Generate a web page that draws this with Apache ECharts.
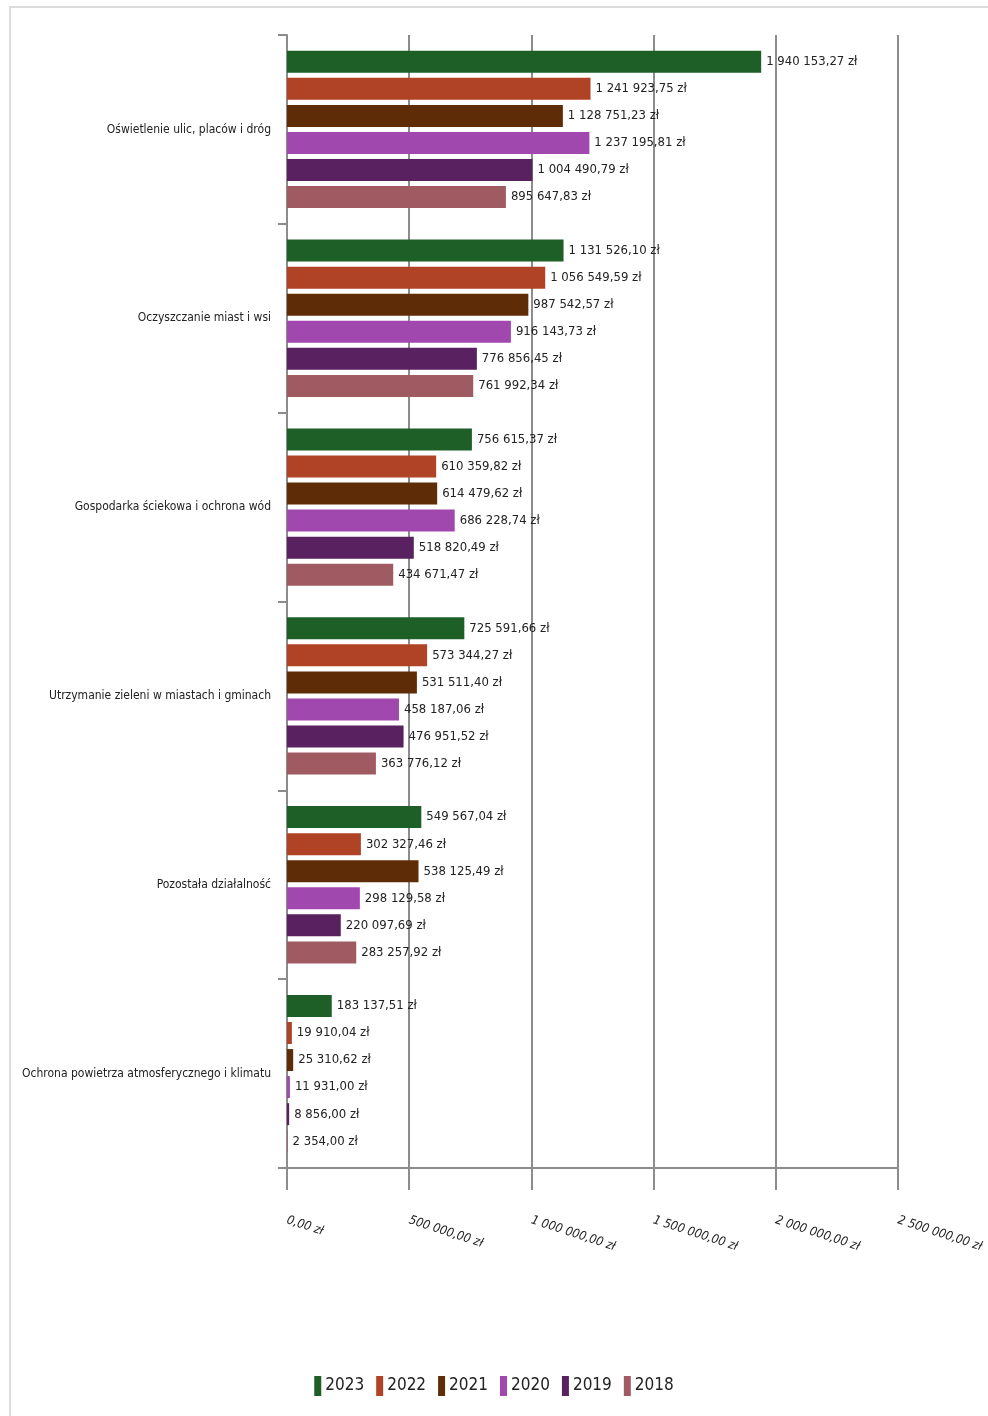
<!DOCTYPE html>
<html><head><meta charset="utf-8">
<script src="https://cdn.jsdelivr.net/npm/echarts@6/dist/echarts.min.js"></script>
<style>html,body{margin:0;padding:0;background:#fff}#c{width:988px;height:1416px}</style>
</head><body><div id="c"></div>
<script>
const categories = [
  'Oświetlenie ulic, placów i dróg',
  'Oczyszczanie miast i wsi',
  'Gospodarka ściekowa i ochrona wód',
  'Utrzymanie zieleni w miastach i gminach',
  'Pozostała działalność',
  'Ochrona powietrza atmosferycznego i klimatu'
];
const years = ['2023','2022','2021','2020','2019','2018'];
const v2023 = [1940153.27, 1131526.10, 756615.37, 725591.66, 549567.04, 183137.51];
const v2022 = [1241923.75, 1056549.59, 610359.82, 573344.27, 302327.46, 19910.04];
const v2021 = [1128751.23, 987542.57, 614479.62, 531511.40, 538125.49, 25310.62];
const v2020 = [1237195.81, 916143.73, 686228.74, 458187.06, 298129.58, 11931.00];
const v2019 = [1004490.79, 776856.45, 518820.49, 476951.52, 220097.69, 8856.00];
const v2018 = [895647.83, 761992.34, 434671.47, 363776.12, 283257.92, 2354.00];
const axisTicks = [0, 500000, 1000000, 1500000, 2000000, 2500000];

const seriesData = [v2023, v2022, v2021, v2020, v2019, v2018];
const colors = ['#1e5f28', '#b04326', '#5e2d08', '#a048ae', '#5a2160', '#a05a62'];

function fmt(v) {
  const s = v.toFixed(2).split('.');
  const int = s[0].replace(/\B(?=(\d{3})+(?!\d))/g, ' ');
  return int + ',' + s[1] + ' zł';
}

const FONT = '"Liberation Sans Narrow", "DejaVu Sans Condensed", "Liberation Sans", Arial, sans-serif';
const chart = echarts.init(document.getElementById('c'), null, {renderer: 'canvas'});
chart.setOption({
  animation: false,
  backgroundColor: '#fff',
  color: colors,
  graphic: [{
    type: 'rect', shape: {x: 10, y: 7, width: 1100, height: 1500},
    style: {fill: 'none', stroke: '#dcdcdc', lineWidth: 2}, silent: true
  }],
  grid: {left: 287, right: 90, top: 35, bottom: 248, containLabel: false, outerBoundsMode: 'none'},
  legend: {
    data: years, bottom: 15, left: 'center',
    itemWidth: 7, itemHeight: 20, itemGap: 12,
    icon: 'rect',
    textStyle: {fontFamily: FONT, fontSize: 17, color: '#222', padding: [0, 0, 0, -1]}
  },
  xAxis: {
    type: 'value', min: 0, max: 2500000, interval: 500000,
    axisLine: {show: true, lineStyle: {color: '#8c8c8c', width: 2}},
    axisTick: {show: true, length: 22, lineStyle: {color: '#8c8c8c', width: 2}},
    splitLine: {show: true, lineStyle: {color: '#8c8c8c', width: 2}},
    axisLabel: {
      rotate: -18, margin: 52, fontFamily: FONT, fontSize: 12.5, color: '#222',
      fontStyle: 'italic',
      formatter: v => fmt(v)
    }
  },
  yAxis: {
    type: 'category', data: categories, inverse: true,
    axisLine: {show: true, lineStyle: {color: '#8c8c8c', width: 2}},
    axisTick: {show: true, length: 9, lineStyle: {color: '#8c8c8c', width: 2}},
    axisLabel: {fontFamily: FONT, fontSize: 12, color: '#222', margin: 16}
  },
  series: years.map((y, i) => ({
    name: y, type: 'bar', data: seriesData[i],
    barWidth: 22, barGap: '23%', barCategoryGap: '17%',
    itemStyle: {color: colors[i]},
    label: {
      show: true, position: 'right', distance: 5,
      fontFamily: FONT, fontSize: 13, color: '#222',
      formatter: p => fmt(p.value)
    }
  }))
});
</script></body></html>
